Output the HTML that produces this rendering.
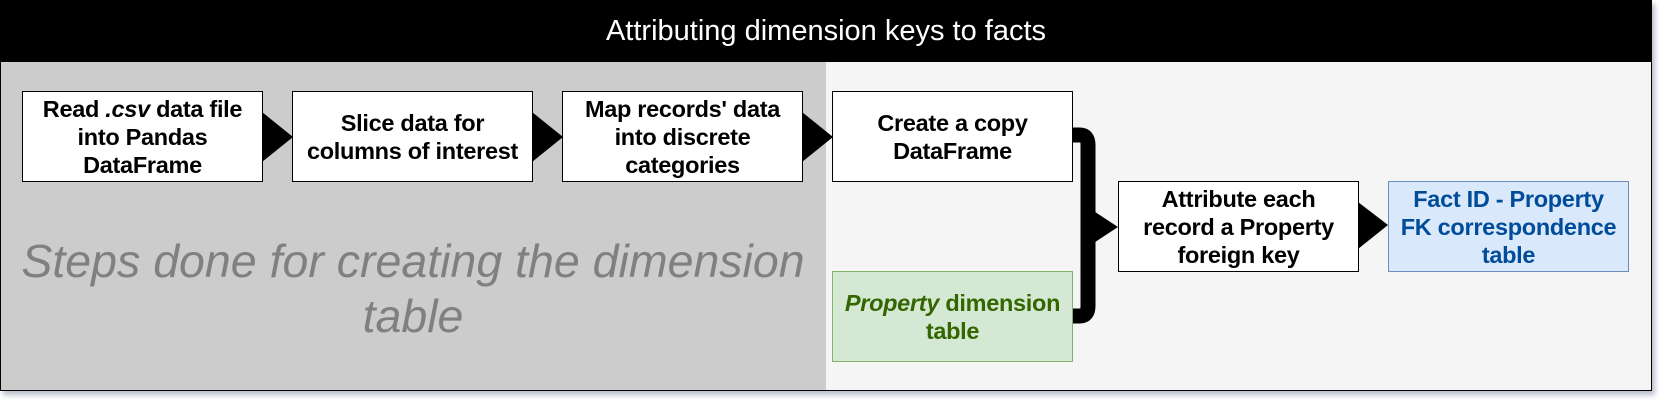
<!DOCTYPE html>
<html><head><meta charset="utf-8"><style>
body{margin:0;width:1670px;height:408px;background:#fff;position:relative;overflow:hidden;font-family:"Liberation Sans",Arial,sans-serif}
.a{position:absolute;box-sizing:border-box}
.box{position:absolute;box-sizing:border-box;border:1.5px solid #000;background:#fff;display:flex;align-items:center;justify-content:center;text-align:center;font-weight:bold;font-size:23.5px;line-height:28px;color:#000;letter-spacing:-0.3px}
</style></head><body>
<div class="a" style="left:0;top:0;width:1652px;height:391px;border:1.5px solid #000;background:#f5f5f5;box-shadow:3px 4px 5px rgba(100,110,140,0.45)"></div>
<div class="a" style="left:0;top:0;width:1652px;height:62px;background:#000;color:#fff;font-size:29px;display:flex;align-items:center;justify-content:center">Attributing dimension keys to facts</div>
<div class="a" style="left:1px;top:62px;width:825px;height:328px;background:#cccccc"></div>
<div class="a" style="left:0px;top:234px;width:826px;text-align:center;font-style:italic;font-size:46.5px;line-height:55px;color:#808080">Steps done for creating the dimension table</div>
<svg class="a" style="left:0;top:0" width="1670" height="408">
<polygon points="262,112 293,137 262,162" fill="#000"/>
<polygon points="532,112 563,137 532,162" fill="#000"/>
<polygon points="802,112 833,137 802,162" fill="#000"/>
<path d="M1073,135 H1080 Q1088,135 1088,145 V306 Q1088,316 1080,316 H1073" fill="none" stroke="#000" stroke-width="15"/>
<polygon points="1086,206 1118,227 1086,248" fill="#000"/>
<polygon points="1358,202 1388,225 1358,249" fill="#000"/>
</svg>
<div class="box" style="left:22px;top:91px;width:241px;height:91px"><span>Read <i>.csv</i> data file<br>into Pandas<br>DataFrame</span></div>
<div class="box" style="left:292px;top:91px;width:241px;height:91px"><span>Slice data for<br>columns of interest</span></div>
<div class="box" style="left:562px;top:91px;width:241px;height:91px"><span>Map records' data<br>into discrete<br>categories</span></div>
<div class="box" style="left:832px;top:91px;width:241px;height:91px"><span>Create a copy<br>DataFrame</span></div>
<div class="box" style="left:832px;top:271px;width:241px;height:91px;background:#d5e8d4;border-color:#82b366;color:#336600"><span><i>Property</i> dimension<br>table</span></div>
<div class="box" style="left:1118px;top:181px;width:241px;height:91px"><span>Attribute each<br>record a Property<br>foreign key</span></div>
<div class="box" style="left:1388px;top:181px;width:241px;height:91px;background:#dae8fc;border-color:#6c8ebf;color:#004c99"><span>Fact ID - Property<br>FK correspondence<br>table</span></div>
</body></html>
